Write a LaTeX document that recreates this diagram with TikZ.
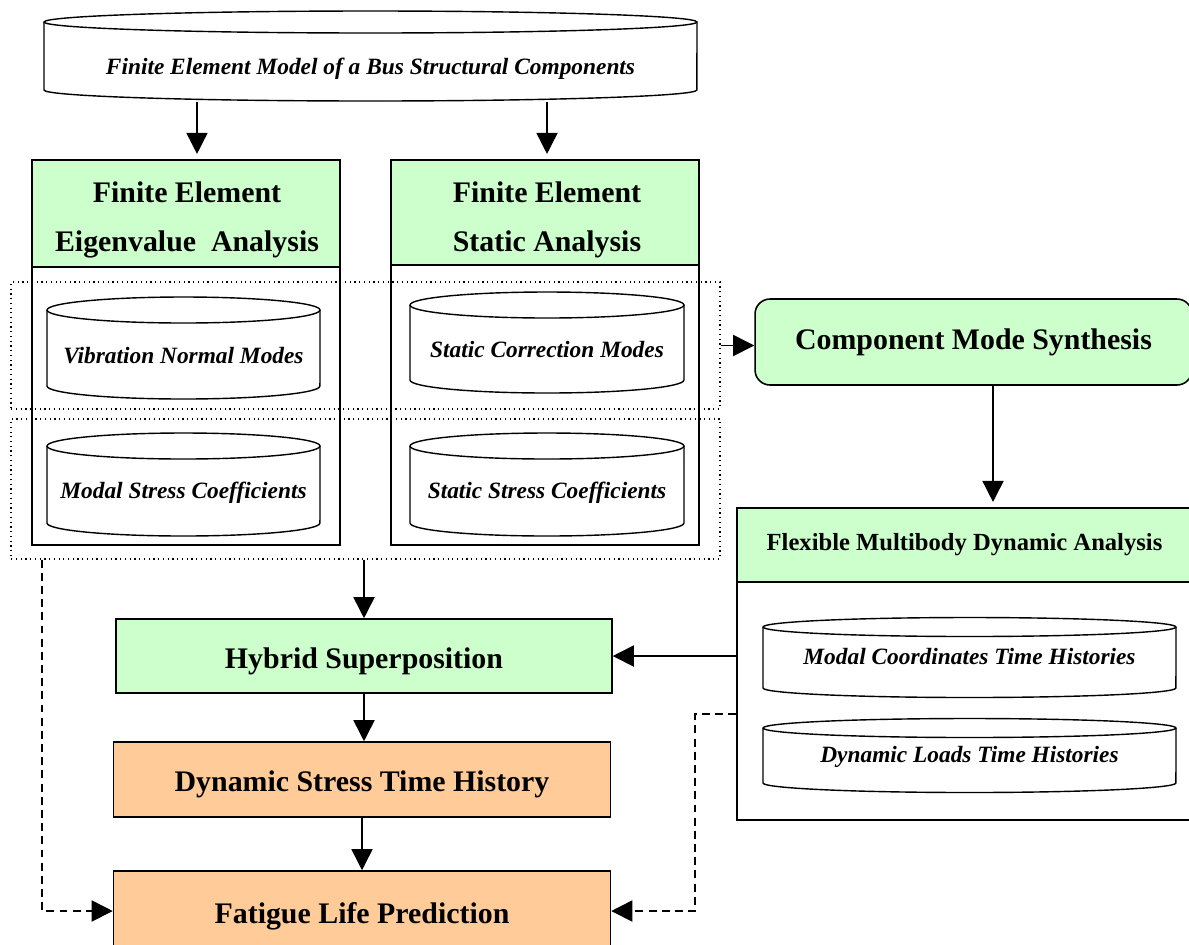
\documentclass[tikz,border=0pt]{standalone}
\usepackage{fontspec}
\setmainfont{Liberation Serif}
\usepackage{xcolor}
\usepackage{tikz}
\usetikzlibrary{arrows.meta}
\usetikzlibrary{positioning,calc}

\definecolor{fegreen}{RGB}{204,255,204}
\definecolor{feorange}{RGB}{255,204,153}

\tikzset{
	frame/.style={draw,line width=0.9pt,inner sep=0pt},
	head/.style={frame,fill=fegreen,align=center,font=\bfseries\fontsize{17}{28}\selectfont},
	headtext/.style={align=center,font=\bfseries\fontsize{17}{28}\selectfont},
	lowtext/.style={text height=14pt,text depth=0pt},
	result/.style={frame,fill=feorange,lowtext,font=\bfseries\fontsize{17}{20}\selectfont},
	drumtext/.style={font=\bfseries\itshape\fontsize{13.3}{16}\selectfont},
	zone/.style={draw,dotted,line width=0.7pt},
	arr/.style={line width=0.9pt,-{Triangle[length=12pt,width=12pt]}},
	dasharr/.style={arr,dash pattern=on 4.5pt off 3pt}
}

% disk drawn as a flat cylinder: x left, x right, y top, y bottom, radius (px)
\newcommand{\drum}[5]{%
	\pgfmathsetmacro{\drumrx}{(#2-#1)/100}%
	\pgfmathsetmacro{\drumry}{#5/50}%
	\draw[line width=0.8pt,fill=white] (#1,#3) -- (#1,#4) arc[start angle=180,end angle=360,x radius=\drumrx cm,y radius=\drumry cm] -- (#2,#3);
	\draw[line width=0.8pt,fill=white] ({(#1+#2)/2},#3) ellipse[x radius=\drumrx cm,y radius=\drumry cm];
}

\begin{document}
\begin{tikzpicture}[x=0.02cm,y=-0.02cm]
		\useasboundingbox (0,0) rectangle (1189,944);
		\clip (0,0) rectangle (1189,944);
		% model
		\drum{44}{697}{22}{90}{11}
		\node[drumtext,minimum width=13.06cm,minimum height=1.34cm] (fem) at (370.5,68.5) {Finite Element Model of a Bus Structural Components};
		% eigenvalue and static analysis
		\node[frame,minimum width=6.16cm,minimum height=7.7cm] (eigbox) at (186,352.5) {};
		\node[head,minimum width=6.16cm,minimum height=2.14cm] (eig) at (186,213.5) {};
		\node[headtext] (eiglabel) at (187,220) {Finite Element\\Eigenvalue~~Analysis};
		\node[frame,minimum width=6.16cm,minimum height=7.7cm] (statbox) at (545,352.5) {};
		\node[head,minimum width=6.16cm,minimum height=2.1cm] (stat) at (545,212.5) {};
		\node[headtext] (statlabel) at (547,220) {Finite Element\\Static Analysis};
		\drum{47}{320}{310}{386}{13}
		\drum{410}{684}{305}{380}{13}
		\drum{47}{320}{446}{523}{13}
		\drum{410}{684}{446}{523}{13}
		\node[drumtext] (vnm) at (183.5,356) {Vibration Normal Modes};
		\node[drumtext] (scm) at (547,350) {Static Correction Modes};
		\node[drumtext] (msc) at (183.5,493) {Modal Stress Coefficients};
		\node[drumtext] (ssc) at (547,493) {Static Stress Coefficients};
		\node[zone,minimum width=14.18cm,minimum height=2.54cm] (modes) at (365.5,345.5) {};
		\node[zone,minimum width=14.18cm,minimum height=2.8cm] (coeffs) at (365.5,489) {};
		% synthesis and multibody
		\node[head,rounded corners=0.3cm,minimum width=8.74cm,minimum height=1.72cm] (cms) at (973.5,342) {Component Mode Synthesis};
		\node[frame,minimum width=9.1cm,minimum height=6.24cm] (fmda) at (964.5,664) {};
		\node[head,minimum width=9.1cm,minimum height=1.48cm,font=\bfseries\fontsize{14}{16}\selectfont] (fmdahead) at (964.5,545) {Flexible Multibody Dynamic Analysis};
		\drum{763}{1176}{627}{688}{9.5}
		\drum{763}{1176}{728}{783}{9.5}
		\node[drumtext] (mcth) at (969.5,656) {Modal Coordinates Time Histories};
		\node[drumtext] (dlth) at (969.5,757) {Dynamic Loads Time Histories};
		% superposition and fatigue
		\node[head,lowtext,minimum width=9.92cm,minimum height=1.48cm] (hyb) at (364,656) {Hybrid Superposition};
		\node[result,minimum width=9.94cm,minimum height=1.5cm] (dst) at (362,779.5) {Dynamic Stress Time History};
		\node[result,minimum width=9.94cm,minimum height=1.6cm] (fat) at (362,911) {Fatigue Life Prediction};
		% arrows
		\draw[arr,shorten >=3pt] (fem.south -| 197,0) -- (eig.north -| 197,0);
		\draw[arr,shorten >=3pt] (fem.south -| 547,0) -- (stat.north -| 547,0);
		\draw[arr] (modes.east) -- (modes.east -| cms.west);
		\draw[arr,shorten >=3pt] (cms.south -| 993,0) -- (fmdahead.north -| 993,0);
		\draw[arr] (coeffs.south -| hyb.north) -- (hyb.north);
		\draw[arr] (fmda.west |- hyb.east) -- (hyb.east);
		\draw[arr] (hyb.south) -- (hyb.south |- dst.north);
		\draw[arr] (dst.south) -- (fat.north);
		\draw[dasharr] (coeffs.south -| 42,0) |- (fat.west);
		\draw[dasharr] (fmda.west |- 0,714) -- (695,714) |- (fat.east);
\end{tikzpicture}
\end{document}
